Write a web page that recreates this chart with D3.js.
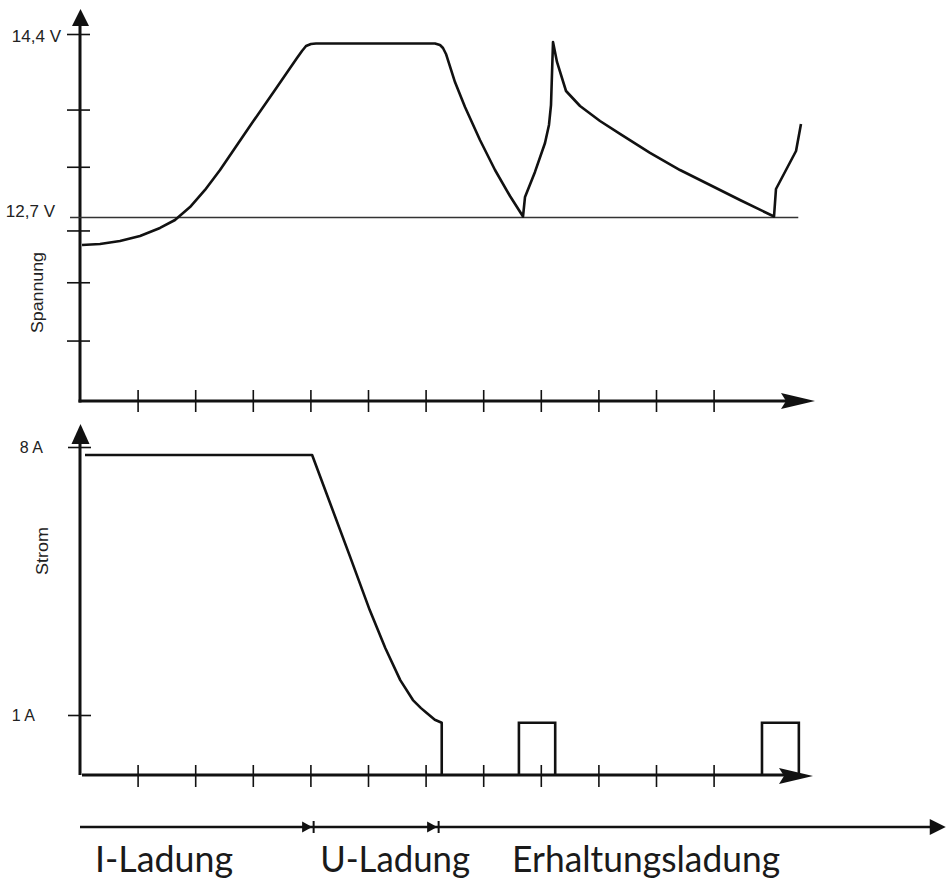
<!DOCTYPE html>
<html><head><meta charset="utf-8">
<script src="https://cdn.jsdelivr.net/npm/d3@7"></script>
<style>body{margin:0;background:#fff}svg{display:block}</style>
</head><body>
<svg id="c" width="952" height="884"></svg>
<script>
// ---------- data ----------
const timeTicks = [1,2,3,4,5,6,7,8,9,10,11];
const voltTicks = [14.4, 13.7, 13.17, 12.58, 12.1, 11.56];
const voltLabelValues = [14.4, 12.7];
const voltLabelTexts = ["14,4 V", "12,7 V"];
const refVoltage = 12.7;
const refEndTime = 12.47;
const currTicks = [8, 1];
const currTickTexts = ["8 A", "1 A"];

const voltT = [0.035,0.347,0.694,1.042,1.389,1.649,1.910,2.170,2.431,2.951,3.385,3.767,3.854,3.924,4.010,4.097,
  6.163,6.250,6.302,6.354,6.510,6.684,6.944,7.205,7.465,7.691,7.726,7.899,8.073,8.142,8.177,8.212,8.281,8.438,
  8.681,9.028,9.375,9.896,10.417,10.938,11.458,12.049,12.083,12.431,12.517];
const voltV = [12.445,12.455,12.482,12.529,12.603,12.677,12.797,12.955,13.140,13.548,13.881,14.178,14.243,14.289,14.307,14.312,
  14.312,14.298,14.270,14.215,13.955,13.724,13.418,13.140,12.899,12.709,12.890,13.122,13.390,13.557,13.742,14.326,14.141,13.872,
  13.733,13.594,13.474,13.298,13.140,13.001,12.862,12.709,12.964,13.316,13.566];

const currT = [0.087,4.03,4.69,5.03,5.30,5.56,5.78,5.92,6.02,6.16,6.28];
const currI = [7.79,7.79,5.13,3.74,2.75,1.91,1.39,1.18,1.05,0.92,0.87];
const pulseStarts = [7.62, 11.84];
const pulseEnds = [8.25, 12.48];
const pulseLevel = 0.87;

const phaseNames = ["I-Ladung", "U-Ladung", "Erhaltungsladung"];
const phaseBounds = [0, 4.03, 6.2, 15.03];

// ---------- layout ----------
const svg = d3.select("#c");
const x = d3.scaleLinear().domain([0, 12.75]).range([80, 814.4]);
const vY = d3.scaleLinear().domain([11, 14.4]).range([401, 34]);
const iY = d3.scaleLinear().domain([0, 1, 8]).range([775, 715, 447]);
const ink = "#111";
const labelFont = "'Liberation Sans', Arial, sans-serif";

function arrowRight(tipX, y, len, half) {
  return `M${tipX},${y}L${tipX-len},${y-half}L${tipX-len+5},${y}L${tipX-len},${y+half}Z`;
}
function arrowUp(x0, tipY, len, half) {
  return `M${x0},${tipY}L${x0+half},${tipY+len}L${x0-half},${tipY+len}Z`;
}

// ---- top panel (voltage) ----
const topG = svg.append("g");
const xAxisTop = d3.axisBottom(x).tickValues(timeTicks).tickFormat("").tickSize(0);
const gxt = topG.append("g").attr("transform", "translate(0,401)").call(xAxisTop);
gxt.select(".domain").remove();
gxt.selectAll(".tick line").attr("y1", -11).attr("y2", 11).attr("stroke", ink).attr("stroke-width", 1.6);
const yAxisTop = d3.axisLeft(vY).tickValues(voltTicks).tickFormat("").tickSize(0);
const gyt = topG.append("g").attr("transform", "translate(80,0)").call(yAxisTop);
gyt.select(".domain").remove();
gyt.selectAll(".tick line").attr("x1", -13).attr("x2", 10).attr("stroke", ink).attr("stroke-width", 1.6);
topG.append("line").attr("x1", 80).attr("x2", 80).attr("y1", 22).attr("y2", 402.5).attr("stroke", ink).attr("stroke-width", 3);
topG.append("line").attr("x1", 78.5).attr("x2", 790).attr("y1", 401).attr("y2", 401).attr("stroke", ink).attr("stroke-width", 3);
topG.append("path").attr("d", arrowUp(80.5, 9, 17, 8.5)).attr("fill", ink);
topG.append("path").attr("d", arrowRight(815, 401, 34, 8)).attr("fill", ink);
topG.append("line").attr("x1", 70).attr("x2", x(refEndTime))
  .attr("y1", vY(refVoltage)).attr("y2", vY(refVoltage)).attr("stroke", "#333").attr("stroke-width", 1.6);
topG.selectAll("text.vl").data(voltLabelValues).join("text")
  .attr("x", (d,i) => i === 0 ? 61 : 55).attr("y", (d,i) => vY(d) + (i === 0 ? 8 : -1))
  .attr("text-anchor", "end").attr("font-family", labelFont).attr("font-size", 17).attr("fill", "#222")
  .text((d,i) => voltLabelTexts[i]);
topG.append("text").attr("transform", "translate(43,292.5) rotate(-90)").attr("text-anchor", "middle")
  .attr("font-family", labelFont).attr("font-size", 17).attr("fill", "#222")
  .attr("textLength", 81).attr("lengthAdjust", "spacingAndGlyphs").text("Spannung");
const vPts = voltT.map((t,i) => [t, voltV[i]]);
topG.append("path").datum(vPts)
  .attr("d", d3.line().x(d => x(d[0])).y(d => vY(d[1])).curve(d3.curveLinear))
  .attr("fill", "none").attr("stroke", ink).attr("stroke-width", 2.6).attr("stroke-linejoin", "round");

// ---- bottom panel (current) ----
const botG = svg.append("g");
const gxb = botG.append("g").attr("transform", "translate(0,775)").call(xAxisTop);
gxb.select(".domain").remove();
gxb.selectAll(".tick line").attr("y1", -10).attr("y2", 12).attr("stroke", ink).attr("stroke-width", 1.6);
const yAxisBot = d3.axisLeft(iY).tickValues(currTicks).tickFormat("").tickSize(0);
const gyb = botG.append("g").attr("transform", "translate(80,0)").call(yAxisBot);
gyb.select(".domain").remove();
gyb.selectAll(".tick line").attr("x1", -12).attr("x2", 11).attr("stroke", ink).attr("stroke-width", 1.6);
botG.append("line").attr("x1", 80).attr("x2", 80).attr("y1", 440).attr("y2", 775).attr("stroke", ink).attr("stroke-width", 3);
botG.append("line").attr("x1", 82).attr("x2", 790).attr("y1", 775).attr("y2", 775).attr("stroke", ink).attr("stroke-width", 3);
botG.append("path").attr("d", arrowUp(80.5, 424, 20, 9)).attr("fill", ink);
botG.append("path").attr("d", arrowRight(813, 776, 34, 8)).attr("fill", ink);
botG.selectAll("text.cl").data(currTicks).join("text")
  .attr("x", (d,i) => i === 0 ? 43 : 35).attr("y", d => iY(d) + 6)
  .attr("text-anchor", "end").attr("font-family", labelFont).attr("font-size", 16).attr("fill", "#222")
  .text((d,i) => currTickTexts[i]);
botG.append("text").attr("transform", "translate(48,551) rotate(-90)").attr("text-anchor", "middle")
  .attr("font-family", labelFont).attr("font-size", 17).attr("fill", "#222")
  .attr("textLength", 48).attr("lengthAdjust", "spacingAndGlyphs").text("Strom");
const cPts = currT.map((t,i) => [t, currI[i]]);
const lastT = currT[currT.length-1];
cPts.push([lastT, 0]);
botG.append("path").datum(cPts)
  .attr("d", d3.line().x(d => x(d[0])).y(d => iY(d[1])).curve(d3.curveLinear))
  .attr("fill", "none").attr("stroke", ink).attr("stroke-width", 2.6).attr("stroke-linejoin", "round");
const pulses = pulseStarts.map((s,i) => [[s,0],[s,pulseLevel],[pulseEnds[i],pulseLevel],[pulseEnds[i],0]]);
botG.selectAll("path.pulse").data(pulses).join("path")
  .attr("d", d3.line().x(d => x(d[0])).y(d => iY(d[1])))
  .attr("fill", "none").attr("stroke", ink).attr("stroke-width", 2.6).attr("stroke-linejoin", "miter");

// ---- phase timeline ----
const tl = svg.append("g");
const tlY = 827;
tl.append("line").attr("x1", x(phaseBounds[0])).attr("x2", x(phaseBounds[3]) - 10)
  .attr("y1", tlY).attr("y2", tlY).attr("stroke", ink).attr("stroke-width", 2.6);
tl.append("path").attr("d", `M${x(phaseBounds[3])},${tlY}L${x(phaseBounds[3])-16},${tlY-8}L${x(phaseBounds[3])-16},${tlY+8}Z`).attr("fill", ink);
[phaseBounds[1], phaseBounds[2]].forEach(b => {
  const px = x(b);
  tl.append("path").attr("d", `M${px},${tlY}L${px-10},${tlY-5.5}L${px-10},${tlY+5.5}Z`).attr("fill", ink);
  tl.append("line").attr("x1", px+1.5).attr("x2", px+1.5).attr("y1", tlY-6).attr("y2", tlY+6)
    .attr("stroke", ink).attr("stroke-width", 2);
});
const labelOffsets = [15, 8, 75];
const labelWidths = [138, 150, 268];
tl.selectAll("text.ph").data(phaseNames).join("text")
  .attr("x", (d,i) => x(phaseBounds[i]) + labelOffsets[i]).attr("y", 872)
  .attr("font-family", "Lato, 'Open Sans', sans-serif").attr("font-size", 36).attr("fill", "#1a1a1a")
  .attr("textLength", (d,i) => labelWidths[i]).attr("lengthAdjust", "spacingAndGlyphs")
  .text(d => d);
</script>
</body></html>
